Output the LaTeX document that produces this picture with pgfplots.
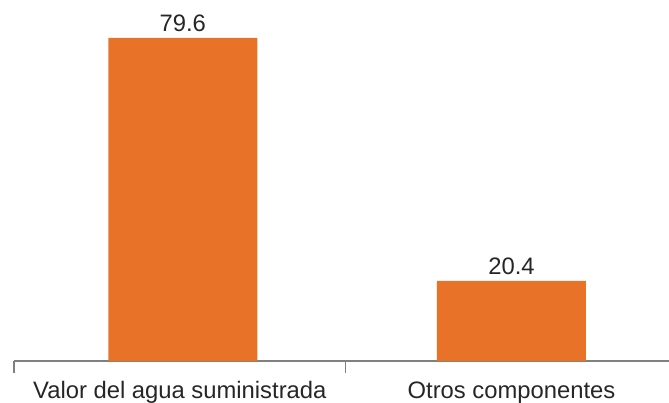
\documentclass[border=0pt]{standalone}
\usepackage{pgfplots}
\pgfplotsset{compat=1.18}
\usepackage{fontspec}
\setmainfont{Liberation Sans}
\definecolor{barorange}{RGB}{232,114,40}
\definecolor{axisgray}{RGB}{128,128,128}
\definecolor{textgray}{RGB}{38,38,38}
\begin{document}
\begin{tikzpicture}
\useasboundingbox (0,0) rectangle (669pt,402pt);
\begin{axis}[
  at={(14pt,41pt)}, anchor=south west,
  scale only axis,
  width=655pt, height=361pt,
  xmin=-0.5, xmax=1.475,
  ymin=0.9, ymax=88.84,
  axis x line=bottom,
  hide y axis,
  axis line style={axisgray, line width=1.2pt, -},
  xtick={0,1},
  xticklabels={Valor del agua suministrada, Otros componentes},
  major tick length=0pt,
  extra x ticks={-0.5,0.5},
  extra x tick labels={},
  extra x tick style={major tick length=12pt, tick align=outside, tick style={axisgray, line width=1.2pt}},
  xticklabel style={anchor=base, yshift=-37pt, text=textgray, font=\fontsize{23.8}{28}\selectfont},
  ytick=\empty,
  clip=false,
  /pgf/number format/assume math mode=true,
  /pgf/number format/fixed,
  /pgf/number format/fixed zerofill,
  /pgf/number format/precision=1,
]
\addplot[ybar, bar width=149pt, fill=barorange, draw=none,
  nodes near coords,
  nodes near coords style={anchor=base, inner sep=0pt, yshift=6pt, text=textgray, font=\fontsize{23.8}{28}\selectfont},
  point meta=explicit,
] table[meta=v] {
x y v
0.009 79.6 79.6
1 20.4 20.4
};
\end{axis}
\end{tikzpicture}
\end{document}
